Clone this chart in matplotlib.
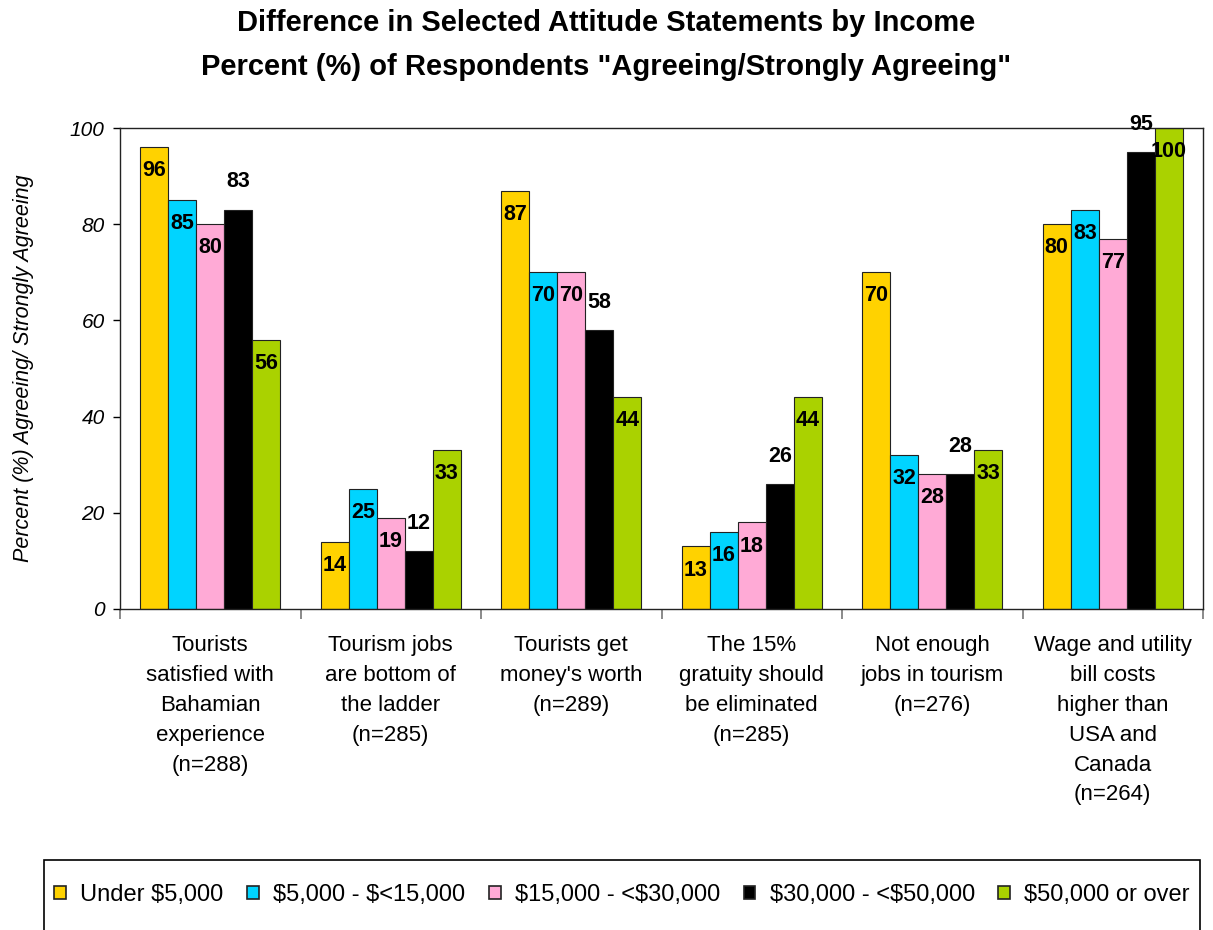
import numpy as np
import matplotlib
matplotlib.use("Agg")
import matplotlib.pyplot as plt
from matplotlib.patches import Patch, Rectangle

plt.rcParams['font.family'] = ['Liberation Sans', 'DejaVu Sans']

# survey results, % agreeing / strongly agreeing, by income band
statements = [
    "Tourists\nsatisfied with\nBahamian\nexperience\n(n=288)",
    "Tourism jobs\nare bottom of\nthe ladder\n(n=285)",
    "Tourists get\nmoney's worth\n(n=289)",
    "The 15%\ngratuity should\nbe eliminated\n(n=285)",
    "Not enough\njobs in tourism\n(n=276)",
    "Wage and utility\nbill costs\nhigher than\nUSA and\nCanada\n(n=264)",
]
income_bands = ["Under \\$5,000", "\\$5,000 - \\$<15,000", "\\$15,000 - <\\$30,000",
                "\\$30,000 - <\\$50,000", "\\$50,000 or over"]
under_5k = [96, 14, 87, 13, 70, 80]
from_5k_15k = [85, 25, 70, 16, 32, 83]
from_15k_30k = [80, 19, 70, 18, 28, 77]
from_30k_50k = [83, 12, 58, 26, 28, 95]
over_50k = [56, 33, 44, 44, 33, 100]

series = [under_5k, from_5k_15k, from_15k_30k, from_30k_50k, over_50k]
colors = ["#FFD200", "#00D4FF", "#FFAAD6", "#000000", "#AAD200"]

fig = plt.figure(figsize=(12.13, 9.30), dpi=100)
ax = fig.add_axes([120 / 1213, 1 - 609 / 930, 1083 / 1213, 481 / 930])

x = np.arange(len(statements))
w = 0.155
for k, (vals, col) in enumerate(zip(series, colors)):
    bars = ax.bar(x + (k - 2) * w, vals, w, color=col, edgecolor="#222222",
                  linewidth=0.8, zorder=2)
    for b, v in zip(bars, vals):
        cx = b.get_x() + b.get_width() / 2
        if col == "#000000":
            # black bars get their value printed above
            ax.annotate(str(v), (cx, v), xytext=(0, 20), textcoords="offset points",
                        ha="center", va="center", fontsize=15.5, fontweight="bold",
                        annotation_clip=False)
        else:
            ax.annotate(str(v), (cx, v), xytext=(0, -17), textcoords="offset points",
                        ha="center", va="center", fontsize=15.5, fontweight="bold",
                        annotation_clip=False)

ax.set_xlim(-0.5, len(statements) - 0.5)
ax.set_ylim(0, 100)
ax.set_yticks(range(0, 101, 20))
ax.tick_params(axis="y", labelsize=15, direction="out", length=5, width=1, pad=6)
for t in ax.get_yticklabels():
    t.set_fontstyle("italic")

# group boundaries as major ticks, statement names as minor labels
ax.set_xticks(np.arange(-0.5, len(statements), 1.0))
ax.set_xticklabels([])
ax.set_xticks(x, minor=True)
ax.set_xticklabels(statements, minor=True, fontsize=16, linespacing=1.55, va="top")
ax.tick_params(axis="x", which="major", direction="out", length=7, width=1.2, color="#777777")
ax.tick_params(axis="x", which="minor", length=0, pad=19)

for s in ax.spines.values():
    s.set_linewidth(1.0)
    s.set_color("#222222")

ax.set_ylabel("Percent (%) Agreeing/ Strongly Agreeing", fontsize=15.5,
              fontstyle="italic", labelpad=26)

fig.text(0.5, 1 - 23 / 930, "Difference in Selected Attitude Statements by Income",
         ha="center", va="center", fontsize=21, fontweight="bold")
fig.text(0.5, 1 - 67 / 930, 'Percent (%) of Respondents "Agreeing/Strongly Agreeing"',
         ha="center", va="center", fontsize=21, fontweight="bold")

# legend box runs off the bottom edge
fig.patches.append(Rectangle((44 / 1213, -0.05), 1156 / 1213, 0.05 + 70 / 930,
                             transform=fig.transFigure, fill=False,
                             edgecolor="#000000", linewidth=1.2))
handles = [Patch(facecolor=c, edgecolor="#222222", linewidth=1.2) for c in colors]
fig.legend(handles, income_bands, loc="center", bbox_to_anchor=(622 / 1213, 1 - 895 / 930),
           ncol=5, frameon=False, fontsize=17, handlelength=0.5, handleheight=0.5,
           handletextpad=0.6, columnspacing=1.0)

fig.savefig("out.png", dpi=100)
